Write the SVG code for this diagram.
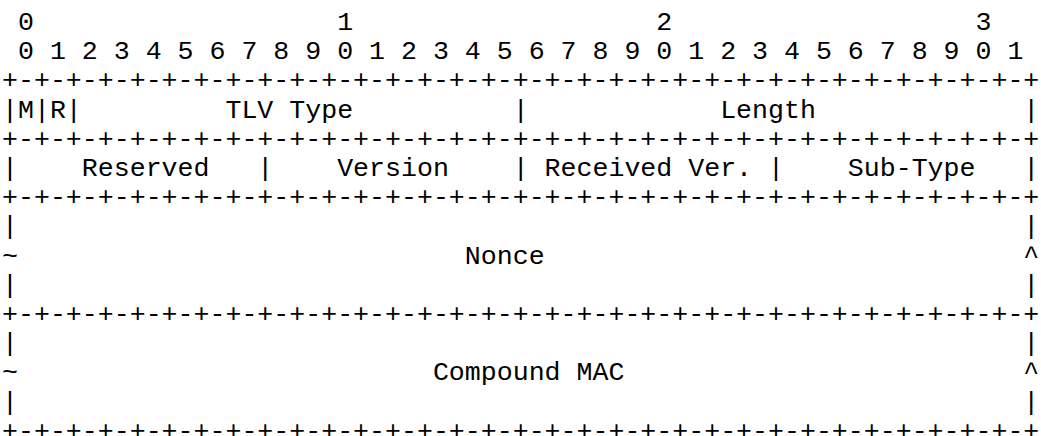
<svg xmlns="http://www.w3.org/2000/svg" width="1041" height="436" viewBox="0 0 1041 436">
<style>
text{font-family:"Liberation Mono","Courier New",monospace;font-size:26.6px;fill:#000;white-space:pre}
</style>
<rect width="1041" height="436" fill="#fff"/>
<g id="header">
<text x="2" y="30" xml:space="preserve"> 0                   1                   2                   3</text>
<text x="2" y="59.2" xml:space="preserve"> 0 1 2 3 4 5 6 7 8 9 0 1 2 3 4 5 6 7 8 9 0 1 2 3 4 5 6 7 8 9 0 1</text>
</g>
<g id="row1">
<text x="2" y="88.4" xml:space="preserve">+-+-+-+-+-+-+-+-+-+-+-+-+-+-+-+-+-+-+-+-+-+-+-+-+-+-+-+-+-+-+-+-+</text>
<text x="2" y="117.6" xml:space="preserve">|M|R|         TLV Type          |            Length             |</text>
<text x="2" y="146.8" xml:space="preserve">+-+-+-+-+-+-+-+-+-+-+-+-+-+-+-+-+-+-+-+-+-+-+-+-+-+-+-+-+-+-+-+-+</text>
</g>
<g id="row2">
<text x="2" y="176" xml:space="preserve">|    Reserved   |    Version    | Received Ver. |    Sub-Type   |</text>
<text x="2" y="205.2" xml:space="preserve">+-+-+-+-+-+-+-+-+-+-+-+-+-+-+-+-+-+-+-+-+-+-+-+-+-+-+-+-+-+-+-+-+</text>
</g>
<g id="nonce">
<text x="2" y="234.4" xml:space="preserve">|                                                               |</text>
<text x="2" y="263.6" xml:space="preserve">~                            Nonce                              ^</text>
<text x="2" y="292.8" xml:space="preserve">|                                                               |</text>
<text x="2" y="322" xml:space="preserve">+-+-+-+-+-+-+-+-+-+-+-+-+-+-+-+-+-+-+-+-+-+-+-+-+-+-+-+-+-+-+-+-+</text>
</g>
<g id="mac">
<text x="2" y="351.2" xml:space="preserve">|                                                               |</text>
<text x="2" y="380.4" xml:space="preserve">~                          Compound MAC                         ^</text>
<text x="2" y="409.6" xml:space="preserve">|                                                               |</text>
<text x="2" y="438.8" xml:space="preserve">+-+-+-+-+-+-+-+-+-+-+-+-+-+-+-+-+-+-+-+-+-+-+-+-+-+-+-+-+-+-+-+-+</text>
</g>
</svg>
